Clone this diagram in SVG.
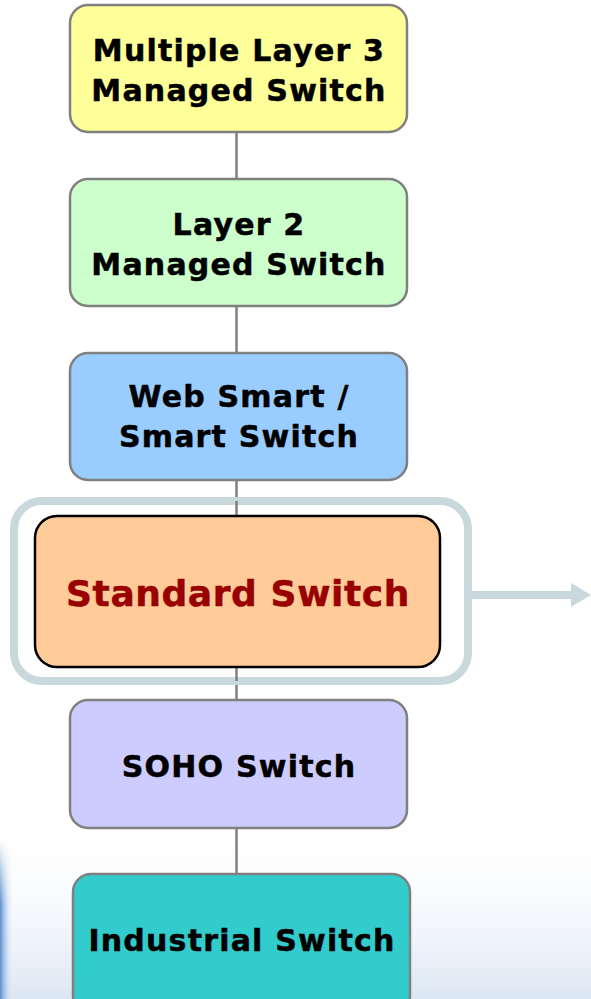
<svg xmlns="http://www.w3.org/2000/svg" width="591" height="999" viewBox="0 0 591 999">
<defs>
<style>
.node{stroke:#808080;stroke-width:2.5}
.lbl{font-family:"DejaVu Sans",Verdana,sans-serif;font-weight:bold;font-size:30px;letter-spacing:1.2px;fill:#000;stroke:#000;stroke-width:0.5;text-anchor:middle}
.conn{stroke:#808080;stroke-width:2.5;fill:none}
</style>
<linearGradient id="bg" x1="0" y1="0" x2="0" y2="1">
<stop offset="0" stop-color="#ffffff" stop-opacity="0"/>
<stop offset="1" stop-color="#dbe6f3"/>
</linearGradient>
<linearGradient id="edge" x1="0" y1="0" x2="1" y2="0">
<stop offset="0" stop-color="#5a8fd0"/>
<stop offset="1" stop-color="#ffffff" stop-opacity="0"/>
</linearGradient>
<linearGradient id="edgev" x1="0" y1="0" x2="0" y2="1">
<stop offset="0" stop-color="#fff" stop-opacity="0"/>
<stop offset="0.4" stop-color="#fff" stop-opacity="1"/>
</linearGradient>
<mask id="em"><rect x="0" y="840" width="30" height="159" fill="url(#edgev)"/></mask>
</defs>
<rect width="591" height="999" fill="#ffffff"/>
<rect x="0" y="820" width="591" height="179" fill="url(#bg)"/>
<rect x="0" y="840" width="14" height="159" fill="url(#edge)" mask="url(#em)"/>
<g id="connectors">
<line class="conn" x1="236.5" y1="132" x2="236.5" y2="874"/>
<line x1="472" y1="595" x2="574" y2="595" stroke="#c8d8dc" stroke-width="8"/>
<polygon points="571,583 591,595 571,607" fill="#c8d8dc"/>
</g>
<g id="highlight">
<rect x="14" y="501" width="454" height="180" rx="28" fill="#ffffff" stroke="#c8d8dc" stroke-width="8"/>
<line class="conn" x1="236.5" y1="501" x2="236.5" y2="681"/>
</g>
<g id="n1">
<rect class="node" x="70" y="5" width="337" height="127" rx="18" fill="#ffff99"/>
<text class="lbl" x="239" y="61">Multiple Layer 3</text>
<text class="lbl" x="239" y="101">Managed Switch</text>
</g>
<g id="n2">
<rect class="node" x="70" y="179" width="337" height="127" rx="18" fill="#ccffcc"/>
<text class="lbl" x="239" y="235">Layer 2</text>
<text class="lbl" x="239" y="275">Managed Switch</text>
</g>
<g id="n3">
<rect class="node" x="70" y="353" width="337" height="127" rx="18" fill="#99ccff"/>
<text class="lbl" x="239" y="407">Web Smart /</text>
<text class="lbl" x="239" y="447">Smart Switch</text>
</g>
<g id="n4">
<rect x="35" y="516" width="405" height="151" rx="22" fill="#ffcc99" stroke="#000000" stroke-width="2.5"/>
<text class="lbl" x="238" y="606" style="font-size:36px;letter-spacing:0.6px;fill:#990000;stroke:#990000">Standard Switch</text>
</g>
<g id="n5">
<rect class="node" x="70" y="700" width="337" height="128" rx="18" fill="#ccccff"/>
<text class="lbl" x="239" y="777">SOHO Switch</text>
</g>
<g id="n6">
<rect class="node" x="73" y="874" width="337" height="140" rx="18" fill="#33cccc"/>
<text class="lbl" x="242" y="951">Industrial Switch</text>
</g>
</svg>
